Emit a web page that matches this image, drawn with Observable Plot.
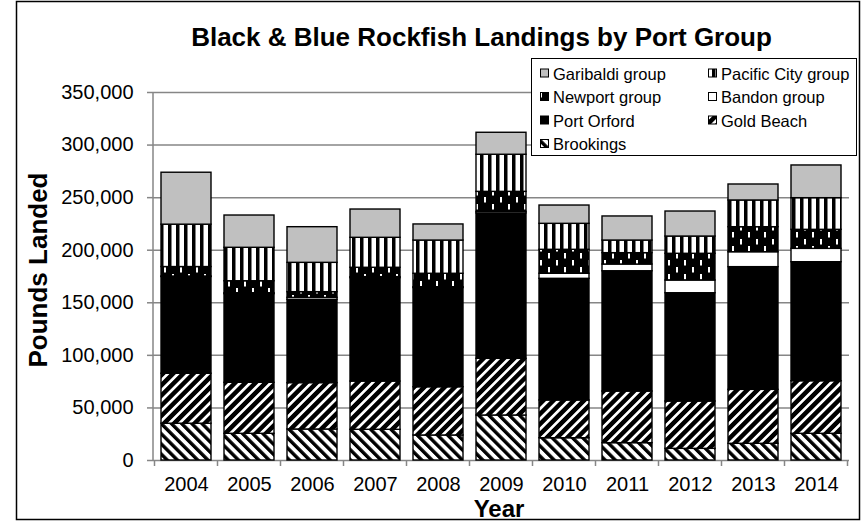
<!DOCTYPE html>
<html>
<head>
<meta charset="utf-8">
<script src="https://cdn.jsdelivr.net/npm/d3@7"></script>
<script src="https://cdn.jsdelivr.net/npm/@observablehq/plot@0.6"></script>
<style>
  body { margin: 0; background: #fff; }
  svg { display: block; }
</style>
</head>
<body>
<div id="chart"></div>
<script>
// Black & Blue rockfish landings (pounds) by port group, 2004–2014
const years = ["2004", "2005", "2006", "2007", "2008", "2009", "2010", "2011", "2012", "2013", "2014"];
const brookings   = [35000, 25400, 29500, 29200, 23800, 42800, 21200, 16500, 11100, 15900, 25400];
const goldBeach   = [47500, 48500, 44100, 45900, 45900, 53900, 35900, 49100, 45000, 51300, 50000];
const portOrford  = [92000, 84300, 79200, 98300, 94300, 138300, 115700, 114400, 103000, 116700, 113200];
const bandon      = [500, 900, 1900, 1000, 800, 1500, 4800, 6400, 12100, 14200, 12700];
const newport     = [9000, 11400, 5400, 8900, 12800, 19000, 22800, 10800, 25400, 23800, 18100];
const pacificCity = [40300, 31800, 27900, 28500, 31600, 35300, 24700, 12000, 16400, 25400, 30100];
const garibaldi   = [49400, 30700, 33900, 26900, 15300, 20900, 17400, 22900, 23800, 15200, 31100];
const yTicks = [0, 50000, 100000, 150000, 200000, 250000, 300000, 350000];

// Stack order, bottom to top
const series = [
  {name: "Brookings",          values: brookings,   fill: "url(#pat-brookings)"},
  {name: "Gold Beach",         values: goldBeach,   fill: "url(#pat-goldbeach)"},
  {name: "Port Orford",        values: portOrford,  fill: "#000000"},
  {name: "Bandon group",       values: bandon,      fill: "#ffffff"},
  {name: "Newport group",      values: newport,     fill: "url(#pat-newport)"},
  {name: "Pacific City group", values: pacificCity, fill: "url(#pat-pacific)"},
  {name: "Garibaldi group",    values: garibaldi,   fill: "#c0c0c0"}
];
const legendOrder = ["Garibaldi group", "Pacific City group", "Newport group", "Bandon group",
                     "Port Orford", "Gold Beach", "Brookings"];

const rows = series.flatMap(s => years.map((year, i) => ({year, group: s.name, value: s.values[i]})));

const FONT = "'Liberation Sans', Arial, Helvetica, sans-serif";
const GRID = "#868686";

const plot = Plot.plot({
  width: 863,
  height: 522,
  marginLeft: 153,
  marginRight: 14,
  marginTop: 92,
  marginBottom: 62,
  style: {background: "#ffffff", fontFamily: FONT, color: "#000", overflow: "visible"},
  x: {type: "band", domain: years, paddingInner: 0.2, paddingOuter: 0.1, label: null},
  y: {domain: [0, 350000], label: null},
  color: {domain: series.map(s => s.name), range: series.map(s => s.fill)},
  marks: [
    Plot.ruleY(yTicks, {stroke: GRID, strokeWidth: 1.5}),
    Plot.barY(rows, {
      x: "year",
      y: "value",
      fill: "group",
      order: series.map(s => s.name),
      stroke: "#000",
      strokeWidth: 1.4
    }),
    Plot.axisY({
      ticks: yTicks,
      tickSize: 6,
      tickPadding: 14,
      tickFormat: d3.format(","),
      stroke: GRID,
      strokeWidth: 1.5,
      fill: "#000",
      fontSize: 20,
      label: null
    }),
    Plot.axisX({
      tickSize: 0,
      tickPadding: 16,
      fill: "#000",
      fontSize: 20,
      label: null
    })
  ]
});

document.getElementById("chart").appendChild(plot);

const svg = d3.select(plot);
const xs = plot.scale("x");
const ys = plot.scale("y");

// Fill patterns used by the hatched series
const defs = svg.insert("defs", ":first-child");
function diagonal(id, angle, period, bg, fg, w) {
  const p = defs.append("pattern")
    .attr("id", id)
    .attr("patternUnits", "userSpaceOnUse")
    .attr("width", period)
    .attr("height", period)
    .attr("patternTransform", `rotate(${angle})`);
  p.append("rect").attr("width", period).attr("height", period).attr("fill", bg);
  p.append("rect").attr("width", w).attr("height", period).attr("fill", fg);
}
diagonal("pat-brookings", -45, 7.2, "#fff", "#000", 3.4);
diagonal("pat-goldbeach", 45, 7.2, "#000", "#fff", 2.7);

const pac = defs.append("pattern")
  .attr("id", "pat-pacific")
  .attr("patternUnits", "userSpaceOnUse")
  .attr("width", 8).attr("height", 8);
pac.append("rect").attr("width", 8).attr("height", 8).attr("fill", "#000");
pac.append("rect").attr("x", 3.5).attr("width", 4.5).attr("height", 8).attr("fill", "#fff");

const np = defs.append("pattern")
  .attr("id", "pat-newport")
  .attr("patternUnits", "userSpaceOnUse")
  .attr("width", 16).attr("height", 14);
np.append("rect").attr("width", 16).attr("height", 14).attr("fill", "#000");
np.append("rect").attr("x", 4).attr("y", 1).attr("width", 2).attr("height", 5.5).attr("fill", "#fff");
np.append("rect").attr("x", 12).attr("y", 8).attr("width", 2).attr("height", 5.5).attr("fill", "#fff");

// Axis lines and category boundary ticks
const x0 = xs.range[0];
const yTop = ys.apply(350000);
const yBase = ys.apply(0);
const axes = svg.append("g").attr("stroke", GRID).attr("stroke-width", 1.5);
axes.append("line").attr("x1", x0).attr("x2", x0).attr("y1", yTop).attr("y2", yBase);
const bounds = years.map(y => xs.apply(y) + xs.bandwidth / 2 - xs.step / 2);
bounds.push(bounds[bounds.length - 1] + xs.step);
axes.selectAll("line.bt").data(bounds).join("line")
  .attr("class", "bt")
  .attr("x1", d => d).attr("x2", d => d)
  .attr("y1", yBase).attr("y2", yBase + 6);

// Title and axis titles
svg.append("text")
  .attr("x", 481.5).attr("y", 46)
  .attr("text-anchor", "middle")
  .attr("font-family", FONT).attr("font-weight", "bold").attr("font-size", 26)
  .attr("fill", "#000")
  .text("Black & Blue Rockfish Landings by Port Group");

svg.append("text")
  .attr("transform", "translate(47,270) rotate(-90)")
  .attr("text-anchor", "middle")
  .attr("font-family", FONT).attr("font-weight", "bold").attr("font-size", 26)
  .attr("fill", "#000")
  .text("Pounds Landed");

svg.append("text")
  .attr("x", 499).attr("y", 517)
  .attr("text-anchor", "middle")
  .attr("font-family", FONT).attr("font-weight", "bold").attr("font-size", 24)
  .attr("fill", "#000")
  .text("Year");

// Legend box, two columns
const lg = svg.append("g").attr("text-anchor", "start");
lg.append("rect")
  .attr("x", 531.5).attr("y", 58.5).attr("width", 325).attr("height", 97)
  .attr("fill", "#fff").attr("stroke", "#000").attr("stroke-width", 1);
const colX = [540, 708];
const rowY = [73.5, 97, 120.5, 144];
legendOrder.forEach((name, i) => {
  const s = series.find(d => d.name === name);
  const cx = colX[i % 2];
  const cy = rowY[Math.floor(i / 2)];
  lg.append("rect")
    .attr("x", cx + 0.5).attr("y", cy - 4.5).attr("width", 8).attr("height", 8)
    .attr("fill", s.fill).attr("stroke", "#000").attr("stroke-width", 1);
  lg.append("text")
    .attr("x", cx + 13).attr("y", cy + 6)
    .attr("text-anchor", "start")
    .attr("font-family", FONT).attr("font-size", 16.5).attr("fill", "#000")
    .text(name);
});

// Outer chart border
svg.append("rect")
  .attr("x", 16.5).attr("y", 1.5).attr("width", 843).attr("height", 518)
  .attr("fill", "none").attr("stroke", "#000").attr("stroke-width", 1.5);
</script>
</body>
</html>
